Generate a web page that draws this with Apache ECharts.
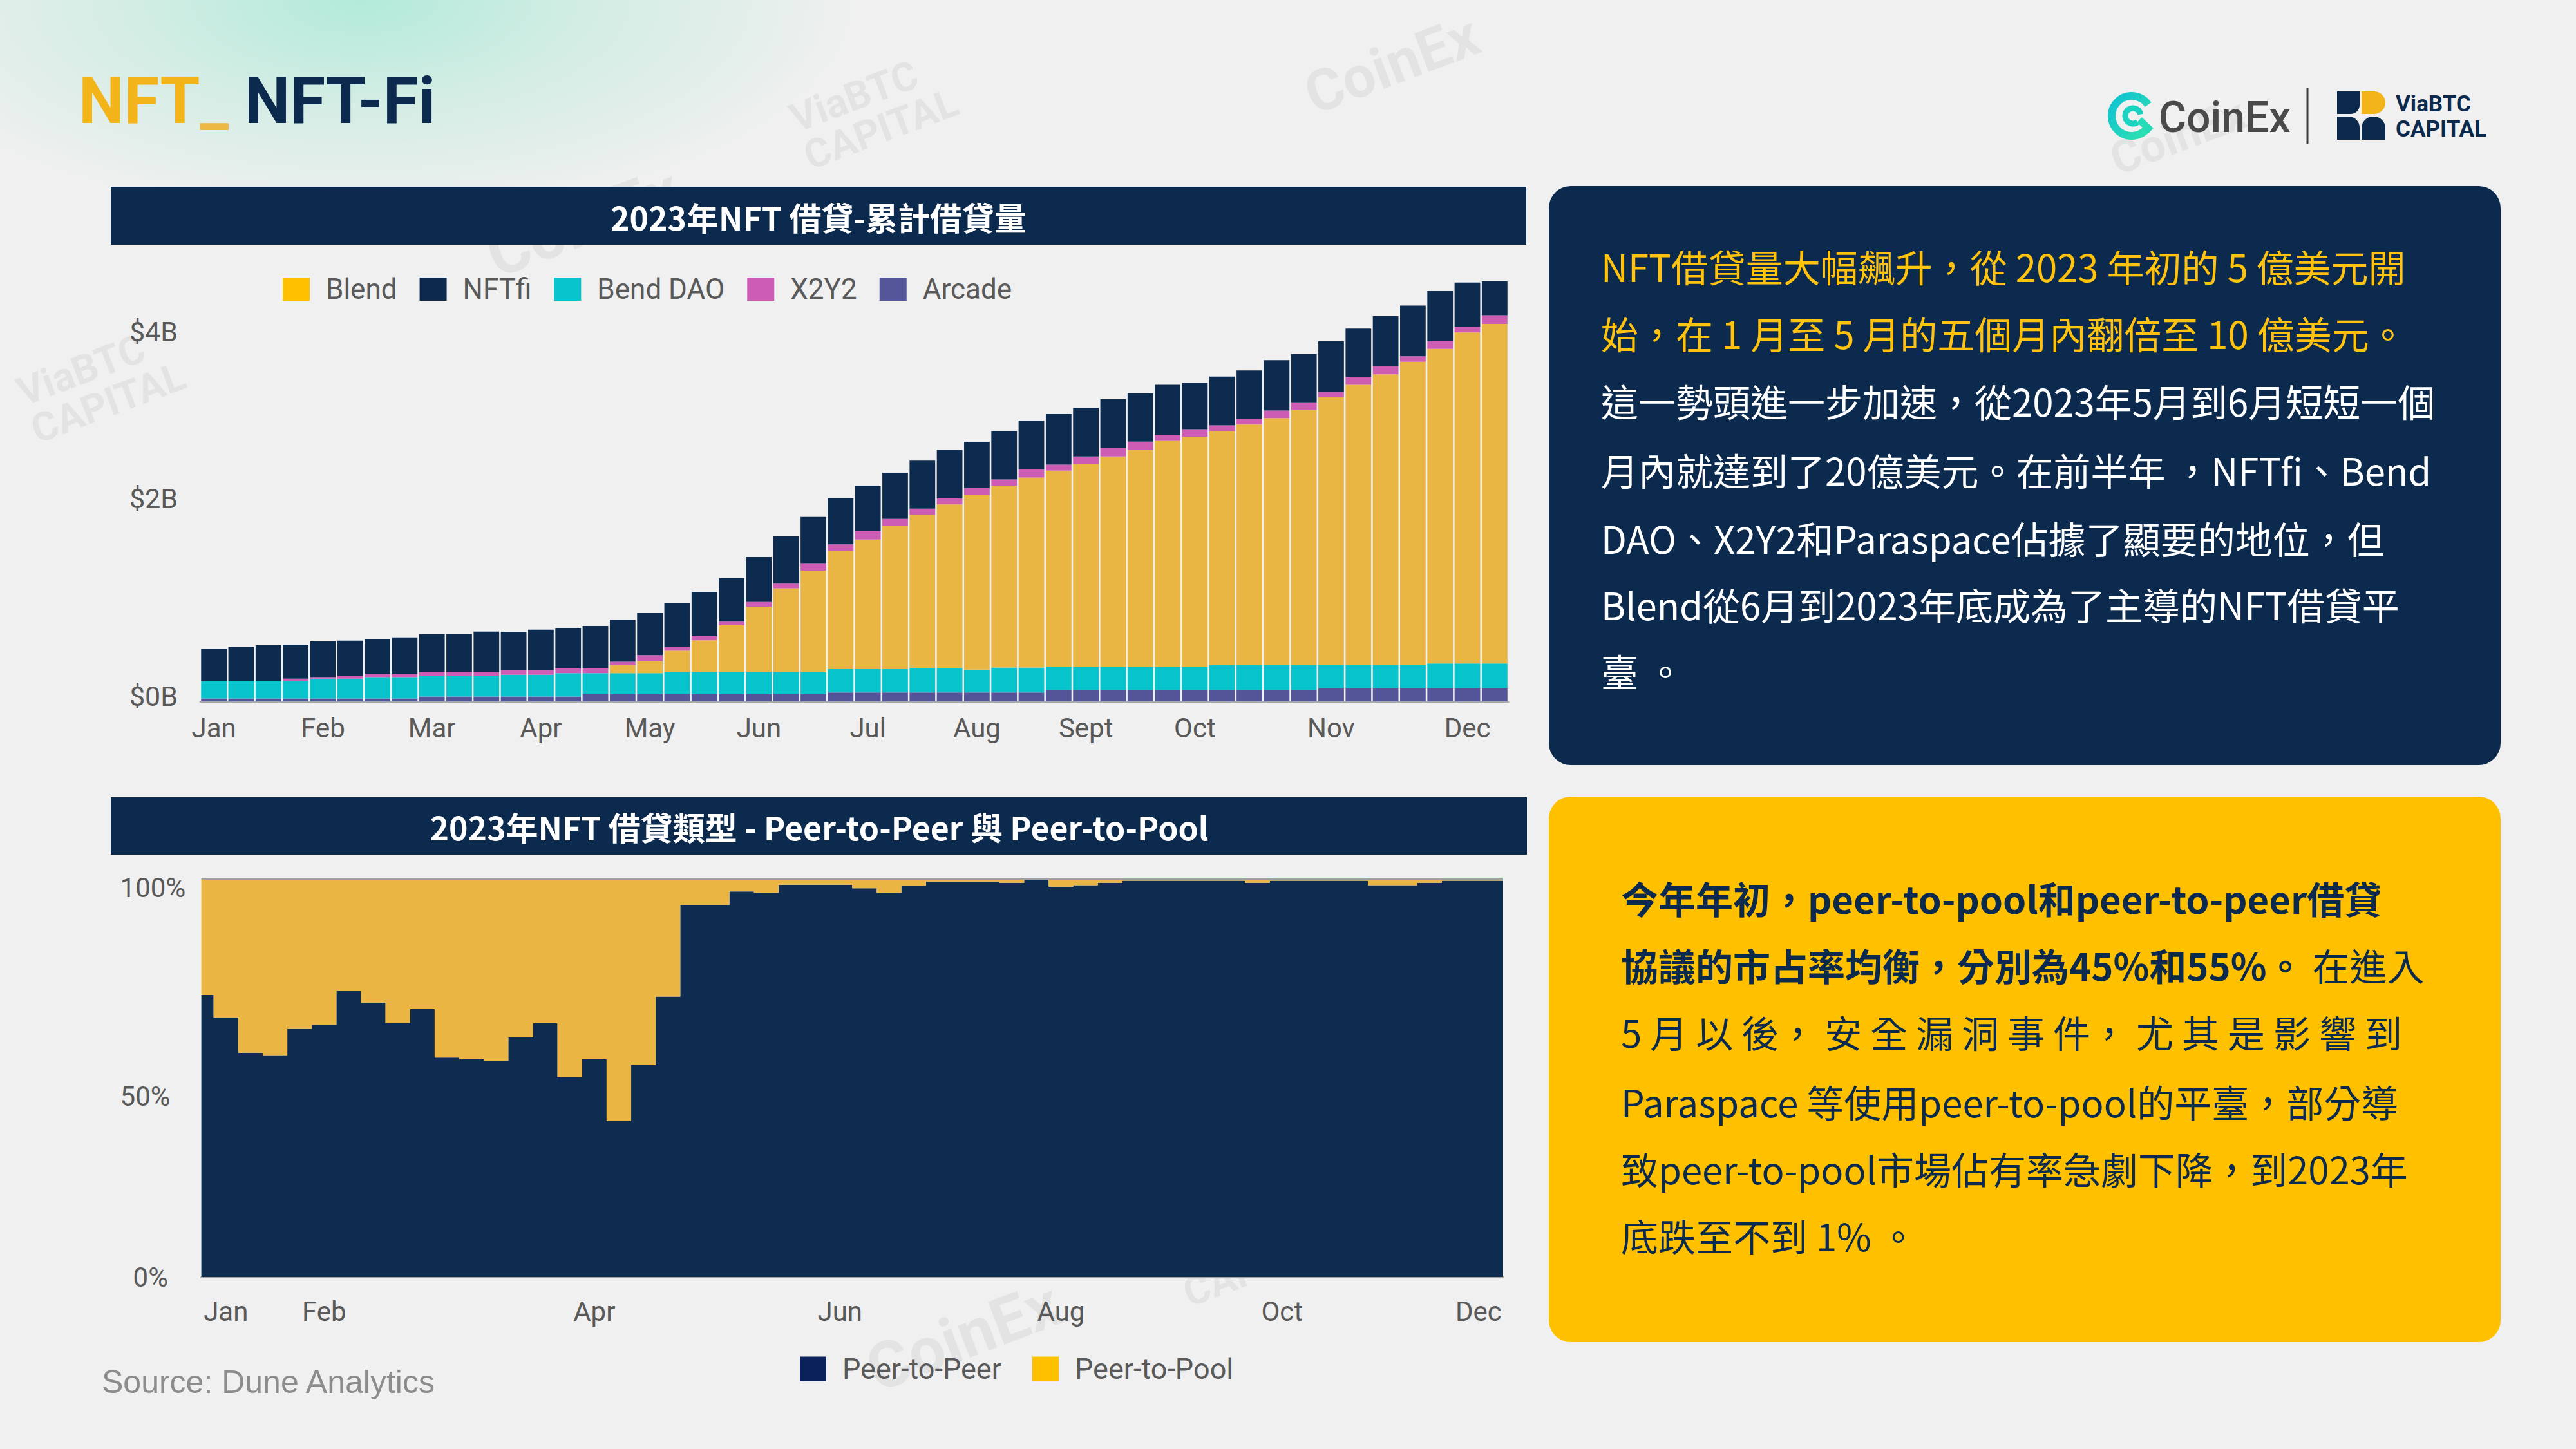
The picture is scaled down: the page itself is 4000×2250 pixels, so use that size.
<!DOCTYPE html>
<html>
<head>
<meta charset="utf-8">
<script src="https://cdn.jsdelivr.net/npm/echarts@6/dist/echarts.min.js"></script>
<style>
html,body{margin:0;padding:0;}
body{width:4000px;height:2250px;background:#F0F0F0;position:relative;overflow:hidden;}
#bg{position:absolute;left:0;top:0;width:4000px;height:2250px;
background:radial-gradient(ellipse 780px 340px at 560px 0px, rgba(178,234,218,1) 0%, rgba(190,234,220,0.6) 45%, rgba(240,240,240,0) 100%);}
#chart{position:absolute;left:0;top:0;width:4000px;height:2250px;}
</style>
</head>
<body>
<div id="bg"></div>
<div id="chart"></div>
<script>
// ---------------- DATA ----------------
// Top chart: cumulative NFT lending volume (US$ millions), 48 weekly bars
const topWeeks = Array.from({length: 48}, (_, i) => 'W' + (i + 1));
const topMonthTickIdx = [0, 4, 8, 12, 16, 20, 24, 28, 32, 36, 41, 46];
const topMonthTickLabels = ['Jan', 'Feb', 'Mar', 'Apr', 'May', 'Jun', 'Jul', 'Aug', 'Sept', 'Oct', 'Nov', 'Dec'];
const topYTickValues = [0, 2000, 4000];
const topYTickLabels = ['$0B', '$2B', '$4B'];

const arcade = [29,29,29,29,29,29,29,29,47,47,47,47,47,47,70,70,70,70,70,70,70,70,70,88,88,88,88,88,88,88,88,110,110,110,110,110,110,110,110,110,110,130,130,130,130,130,130,130];
const bendDao = [170,170,170,170,195,195,205,205,205,205,205,215,215,230,207,207,207,218,218,218,218,218,218,230,230,230,240,240,224,246,246,227,227,227,227,227,227,246,246,246,246,227,227,227,227,243,243,243];
const blend = [0,0,0,0,0,0,0,0,0,0,0,0,0,0,0,84,120,211,313,462,644,826,1001,1168,1278,1415,1510,1614,1720,1792,1873,1938,2002,2077,2142,2229,2271,2310,2372,2436,2517,2641,2764,2867,2990,3101,3263,3347];
const x2y2 = [0,0,0,25,10,25,36,36,36,36,36,47,47,47,47,29,58,36,40,36,47,47,73,62,80,65,62,58,71,62,81,58,75,81,81,58,75,55,58,75,75,55,78,81,55,75,58,87];
const nftfi = [317,338,353,335,357,349,346,360,375,378,400,375,397,400,419,415,415,437,437,430,444,466,455,455,451,455,473,480,454,476,480,499,480,483,476,496,457,480,476,496,476,496,476,492,499,496,434,334];

// Bottom chart: share of lending type (%), 54 weekly points
const bottomWeeks = Array.from({length: 54}, (_, i) => 'W' + (i + 1));
const bottomMonthTickIdx = [1, 5, 16, 26, 35, 44, 52];
const bottomMonthTickLabels = ['Jan', 'Feb', 'Apr', 'Jun', 'Aug', 'Oct', 'Dec'];
const bottomYTickValues = [0, 50, 100];
const bottomYTickLabels = ['0%', '50%', '100%'];

const peerToPeer = [70.8,65.2,56.3,55.7,62.3,63.3,71.8,68.9,63.8,67.3,55.1,54.7,54.3,60.2,63.7,50.2,54.7,39.2,53.2,70.4,93.4,93.4,96.8,96.5,98.5,98.5,98.5,97.6,96.5,98.2,99.3,99.3,99.3,99.0,99.8,98.0,98.4,99.0,99.5,99.5,99.5,99.5,99.5,99.0,99.5,99.5,99.5,99.5,98.4,98.4,99.0,99.5,99.5,99.5];
const peerToPool = [29.2,34.8,43.7,44.3,37.7,36.7,28.2,31.1,36.2,32.7,44.9,45.3,45.7,39.8,36.3,49.8,45.3,60.8,46.8,29.6,6.6,6.6,3.2,3.5,1.5,1.5,1.5,2.4,3.5,1.8,0.7,0.7,0.7,1.0,0.2,2.0,1.6,1.0,0.5,0.5,0.5,0.5,0.5,1.0,0.5,0.5,0.5,0.5,1.6,1.6,1.0,0.5,0.5,0.5];

// ---------------- STYLE ----------------
const CJK = '"Noto Sans CJK TC", "Noto Sans", sans-serif';
const LAT = 'Roboto, "Noto Sans", sans-serif';
const NAVY = '#0C2A4D';
const AXIS_TXT = '#595959';

function text(x, y, str, o) {
  o = o || {};
  const st = {
    text: str, x: x, y: y,
    fill: o.fill || '#000',
    fontSize: o.size || 40,
    fontFamily: o.family || CJK,
    fontWeight: o.weight || 'normal',
    textAlign: o.align || 'left', align: o.align || 'left',
    textVerticalAlign: 'middle', verticalAlign: 'middle'
  };
  if (o.rich) st.rich = o.rich;
  return { type: 'text', z: o.z == null ? 50 : o.z, silent: true, style: st };
}
function watermark(x, y, str, size) {
  return { type: 'text', x: x, y: y, rotation: 0.36, z: 0, silent: true,
    style: { text: str, x: 0, y: 0, fill: 'rgba(0,0,0,0.05)', fontSize: size, fontWeight: 'bold',
      fontFamily: LAT, textAlign: 'left', align: 'left', textVerticalAlign: 'middle', verticalAlign: 'middle' } };
}

const navyLines = [
  ['NFT借貸量大幅飆升，從 2023 年初的 5 億美元開', '#FFC20E'],
  ['始，在 1 月至 5 月的五個月內翻倍至 10 億美元。', '#FFC20E'],
  ['這一勢頭進一步加速，從2023年5月到6月短短一個', '#FFFFFF'],
  ['月內就達到了20億美元。在前半年 ，NFTfi、Bend', '#FFFFFF'],
  ['DAO、X2Y2和Paraspace佔據了顯要的地位，但', '#FFFFFF'],
  ['Blend從6月到2023年底成為了主導的NFT借貸平', '#FFFFFF'],
  ['臺 。', '#FFFFFF']
];
const navyLineY = [413, 517, 622, 729, 835, 938, 1041];

const yellowRich = {
  b: { fontSize: 58, fontFamily: CJK, fontWeight: 'bold', fill: NAVY, textFill: NAVY },
  r: { fontSize: 58, fontFamily: CJK, fontWeight: 'normal', fill: NAVY, textFill: NAVY }
};
const yellowLines = [
  '{b|今年年初，peer-to-pool和peer-to-peer借貸}',
  '{b|協議的市占率均衡，分別為45%和55%。}{r| 在進入}',
  '{r|5 月 以 後， 安 全 漏 洞 事 件， 尤 其 是 影 響 到}',
  '{r|Paraspace 等使用peer-to-pool的平臺，部分導}',
  '{r|致peer-to-pool市場佔有率急劇下降，到2023年}',
  '{r|底跌至不到 1% 。}'
];
const yellowLineY = [1394, 1498, 1602, 1710, 1814, 1918];

const graphics = [];
// watermarks (kept fully inside the page)
graphics.push(watermark(2030, 150, 'CoinEx', 90));
graphics.push(watermark(1240, 215, 'ViaBTC\nCAPITAL', 62));
graphics.push(watermark(40, 640, 'ViaBTC\nCAPITAL', 62));
graphics.push(watermark(760, 400, 'CoinEx', 100));
graphics.push(watermark(1350, 2130, 'CoinEx', 100));
graphics.push(watermark(1840, 2010, 'CAPITAL', 62));
graphics.push(watermark(3560, 2040, 'CoinEx', 90));
graphics.push(watermark(3280, 250, 'CoinEx', 70));

// header
graphics.push(text(122, 156, '{a|NFT}{u|_}{s| }{b|NFT-Fi}', {
  rich: {
    a: { fontSize: 100, fontFamily: LAT, fontWeight: 'bold', fill: '#F2B418', textFill: '#F2B418' },
    u: { fontSize: 100, fontFamily: LAT, fontWeight: 'bold', fill: '#EEB844', textFill: '#EEB844' },
    s: { fontSize: 100, fontFamily: LAT, fontWeight: 'bold', fill: NAVY, textFill: NAVY },
    b: { fontSize: 100, fontFamily: LAT, fontWeight: 'bold', fill: NAVY, textFill: NAVY }
  }
}));

// logos
graphics.push({ type: 'arc', z: 50, silent: true,
  shape: { cx: 3310, cy: 180, r: 31, startAngle: 0.6, endAngle: Math.PI * 2 - 0.6, clockwise: true },
  style: { stroke: new echarts.graphic.LinearGradient(0, 0, 1, 1, [{offset: 0, color: '#0EC2D3'}, {offset: 1, color: '#2FE2B0'}]), lineWidth: 12, fill: 'none' } });
graphics.push({ type: 'arc', z: 50, silent: true,
  shape: { cx: 3312, cy: 180, r: 12, startAngle: 0.9, endAngle: Math.PI * 2 - 0.2, clockwise: true },
  style: { stroke: '#1CD2C0', lineWidth: 9, fill: 'none' } });
graphics.push({ type: 'line', z: 50, silent: true,
  shape: { x1: 3322, y1: 186, x2: 3340, y2: 203 },
  style: { stroke: '#26DBB8', lineWidth: 11 } });
graphics.push(text(3352, 182, 'CoinEx', { size: 66, family: LAT, weight: 500, fill: '#4A4A4A' }));
graphics.push({ type: 'line', z: 50, silent: true, shape: { x1: 3583, y1: 136, x2: 3583, y2: 223 }, style: { stroke: '#3A3A3A', lineWidth: 3 } });
graphics.push({ type: 'rect', z: 50, silent: true, shape: { x: 3629, y: 142, width: 35, height: 35, r: [0, 0, 14, 0] }, style: { fill: NAVY } });
graphics.push({ type: 'rect', z: 50, silent: true, shape: { x: 3667, y: 142, width: 37, height: 35, r: [0, 18, 18, 0] }, style: { fill: '#F2B418' } });
graphics.push({ type: 'rect', z: 50, silent: true, shape: { x: 3629, y: 181, width: 35, height: 36, r: [0, 17, 0, 0] }, style: { fill: NAVY } });
graphics.push({ type: 'rect', z: 50, silent: true, shape: { x: 3667, y: 181, width: 37, height: 36, r: [18, 18, 0, 0] }, style: { fill: NAVY } });
graphics.push(text(3720, 161, 'ViaBTC', { size: 35, family: LAT, weight: 'bold', fill: NAVY }));
graphics.push(text(3720, 200, 'CAPITAL', { size: 35, family: LAT, weight: 'bold', fill: NAVY }));

// chart title bars
graphics.push({ type: 'rect', z: 40, silent: true, shape: { x: 172, y: 290, width: 2198, height: 90 }, style: { fill: NAVY } });
graphics.push(text(1271, 336, '2023年NFT 借貸-累計借貸量', { size: 50, weight: 'bold', fill: '#FFFFFF', align: 'center' }));
graphics.push({ type: 'rect', z: 40, silent: true, shape: { x: 172, y: 1238, width: 2199, height: 89 }, style: { fill: NAVY } });
graphics.push(text(1272, 1283, '2023年NFT 借貸類型 - Peer-to-Peer 與 Peer-to-Pool', { size: 50, weight: 'bold', fill: '#FFFFFF', align: 'center' }));

// source
graphics.push(text(158, 2146, 'Source: Dune Analytics', { size: 50, family: '"Liberation Sans", Arial, sans-serif', fill: '#8C8C8C' }));

// right boxes
graphics.push({ type: 'rect', z: 40, silent: true, shape: { x: 2405, y: 289, width: 1478, height: 899, r: 34 }, style: { fill: NAVY } });
navyLines.forEach((ln, i) => graphics.push(text(2486, navyLineY[i], ln[0], { size: 58, fill: ln[1] })));
graphics.push({ type: 'rect', z: 40, silent: true, shape: { x: 2405, y: 1237, width: 1478, height: 847, r: 34 }, style: { fill: '#FFC000' } });
yellowLines.forEach((ln, i) => graphics.push(text(2517, yellowLineY[i], ln, { fill: NAVY, rich: yellowRich })));

// ---------------- CHART ----------------
const chart = echarts.init(document.getElementById('chart'), null, { renderer: 'svg', width: 4000, height: 2250 });

function barSeries(name, data, color) {
  return { name: name, type: 'bar', stack: 'total', xAxisIndex: 0, yAxisIndex: 0, data: data,
    barCategoryGap: '6%', itemStyle: { color: color }, emphasis: { disabled: true }, z: 3 };
}

const option = {
  animation: false,
  backgroundColor: 'transparent',
  textStyle: { fontFamily: LAT },
  grid: [
    { left: 311, right: 1658, top: 427.5, bottom: 1161, containLabel: false },
    { left: 312.6, right: 1666, top: 1364.5, bottom: 267, containLabel: false }
  ],
  legend: [
    {
      left: 434, top: 422, itemWidth: 42, itemHeight: 36, itemGap: 35, icon: 'rect', selectedMode: false,
      textStyle: { fontSize: 44, color: AXIS_TXT, fontFamily: LAT, padding: [0, 0, 0, 20] },
      data: [
        { name: 'Blend', itemStyle: { color: '#FFC000' } },
        { name: 'NFTfi', itemStyle: { color: '#0C2A4D' } },
        { name: 'Bend DAO', itemStyle: { color: '#07C4CC' } },
        { name: 'X2Y2', itemStyle: { color: '#CC5CB6' } },
        { name: 'Arcade', itemStyle: { color: '#555599' } }
      ]
    },
    {
      left: 1237, top: 2098, itemWidth: 41, itemHeight: 38, itemGap: 48, icon: 'rect', selectedMode: false,
      textStyle: { fontSize: 45, color: AXIS_TXT, fontFamily: LAT, padding: [0, 0, 0, 20] },
      data: [
        { name: 'Peer-to-Peer', itemStyle: { color: '#0B215C', borderWidth: 0 } },
        { name: 'Peer-to-Pool', itemStyle: { color: '#FFC000', borderWidth: 0 } }
      ]
    }
  ],
  xAxis: [
    {
      type: 'category', gridIndex: 0, data: topWeeks, boundaryGap: true,
      axisTick: { show: false },
      axisLine: { show: true, lineStyle: { color: '#A8A8A8', width: 3 } },
      axisLabel: {
        margin: 20, fontSize: 42, color: AXIS_TXT, fontFamily: LAT,
        interval: (idx) => topMonthTickIdx.indexOf(idx) >= 0,
        formatter: (v, idx) => { const k = topMonthTickIdx.indexOf(idx); return k >= 0 ? topMonthTickLabels[k] : ''; }
      },
      splitLine: { show: false }
    },
    {
      type: 'category', gridIndex: 1, data: bottomWeeks, boundaryGap: false,
      axisTick: { show: false },
      axisLine: { show: true, lineStyle: { color: '#A0A0A0', width: 3 } },
      axisLabel: {
        margin: 32, fontSize: 42, color: AXIS_TXT, fontFamily: LAT,
        interval: (idx) => bottomMonthTickIdx.indexOf(idx) >= 0,
        formatter: (v, idx) => { const k = bottomMonthTickIdx.indexOf(idx); return k >= 0 ? bottomMonthTickLabels[k] : ''; }
      },
      splitLine: { show: false }
    }
  ],
  yAxis: [
    {
      type: 'value', gridIndex: 0, min: 0, max: 4200, interval: 2000,
      axisLine: { show: false }, axisTick: { show: false }, splitLine: { show: false },
      axisLabel: {
        margin: 35, fontSize: 43, color: AXIS_TXT, fontFamily: LAT,
        formatter: (v) => {
          const k = topYTickValues.indexOf(v);
          if (k < 0) return '';
          return '{t' + k + '|' + topYTickLabels[k] + '}';
        },
        rich: {
          t0: { fontSize: 43, color: AXIS_TXT, fontFamily: LAT, padding: [0, 0, 16, 0] },
          t1: { fontSize: 43, color: AXIS_TXT, fontFamily: LAT },
          t2: { fontSize: 43, color: AXIS_TXT, fontFamily: LAT, padding: [112, 0, 0, 0] }
        }
      }
    },
    {
      type: 'value', gridIndex: 1, min: 0, max: 100, interval: 50,
      axisLine: { show: false }, axisTick: { show: false }, splitLine: { show: false },
      axisLabel: {
        margin: 126, align: 'left', fontSize: 42, color: AXIS_TXT, fontFamily: LAT,
        formatter: (v) => {
          const k = bottomYTickValues.indexOf(v);
          if (k < 0) return '';
          return '{p' + k + '|' + bottomYTickLabels[k] + '}';
        },
        rich: {
          p0: { fontSize: 42, color: AXIS_TXT, fontFamily: LAT, padding: [0, 0, 0, 20] },
          p1: { fontSize: 42, color: AXIS_TXT, fontFamily: LAT, padding: [58, 0, 0, 0] },
          p2: { fontSize: 42, color: AXIS_TXT, fontFamily: LAT, padding: [28, 0, 0, 0] }
        }
      }
    }
  ],
  series: [
    barSeries('Arcade', arcade, '#545598'),
    barSeries('Bend DAO', bendDao, '#07C3CB'),
    barSeries('Blend', blend, '#EAB643'),
    barSeries('X2Y2', x2y2, '#CC5CB4'),
    barSeries('NFTfi', nftfi, '#0D2B4E'),
    {
      name: 'Peer-to-Peer', type: 'line', xAxisIndex: 1, yAxisIndex: 1, data: peerToPeer,
      stack: 'share', step: 'middle', symbol: 'none', showSymbol: false,
      lineStyle: { width: 0, color: '#0D2C4F' }, itemStyle: { color: '#0D2C4F' },
      areaStyle: { color: '#0D2C4F', opacity: 1 }, emphasis: { disabled: true }, z: 3
    },
    {
      name: 'Peer-to-Pool', type: 'line', xAxisIndex: 1, yAxisIndex: 1, data: peerToPool,
      stack: 'share', step: 'middle', symbol: 'none', showSymbol: false,
      lineStyle: { width: 3, color: '#A0A0A0' }, itemStyle: { color: '#EAB543' },
      areaStyle: { color: '#EAB543', opacity: 1 }, emphasis: { disabled: true }, z: 3
    }
  ],
  graphic: { elements: graphics }
};
chart.setOption(option);
</script>
</body>
</html>
